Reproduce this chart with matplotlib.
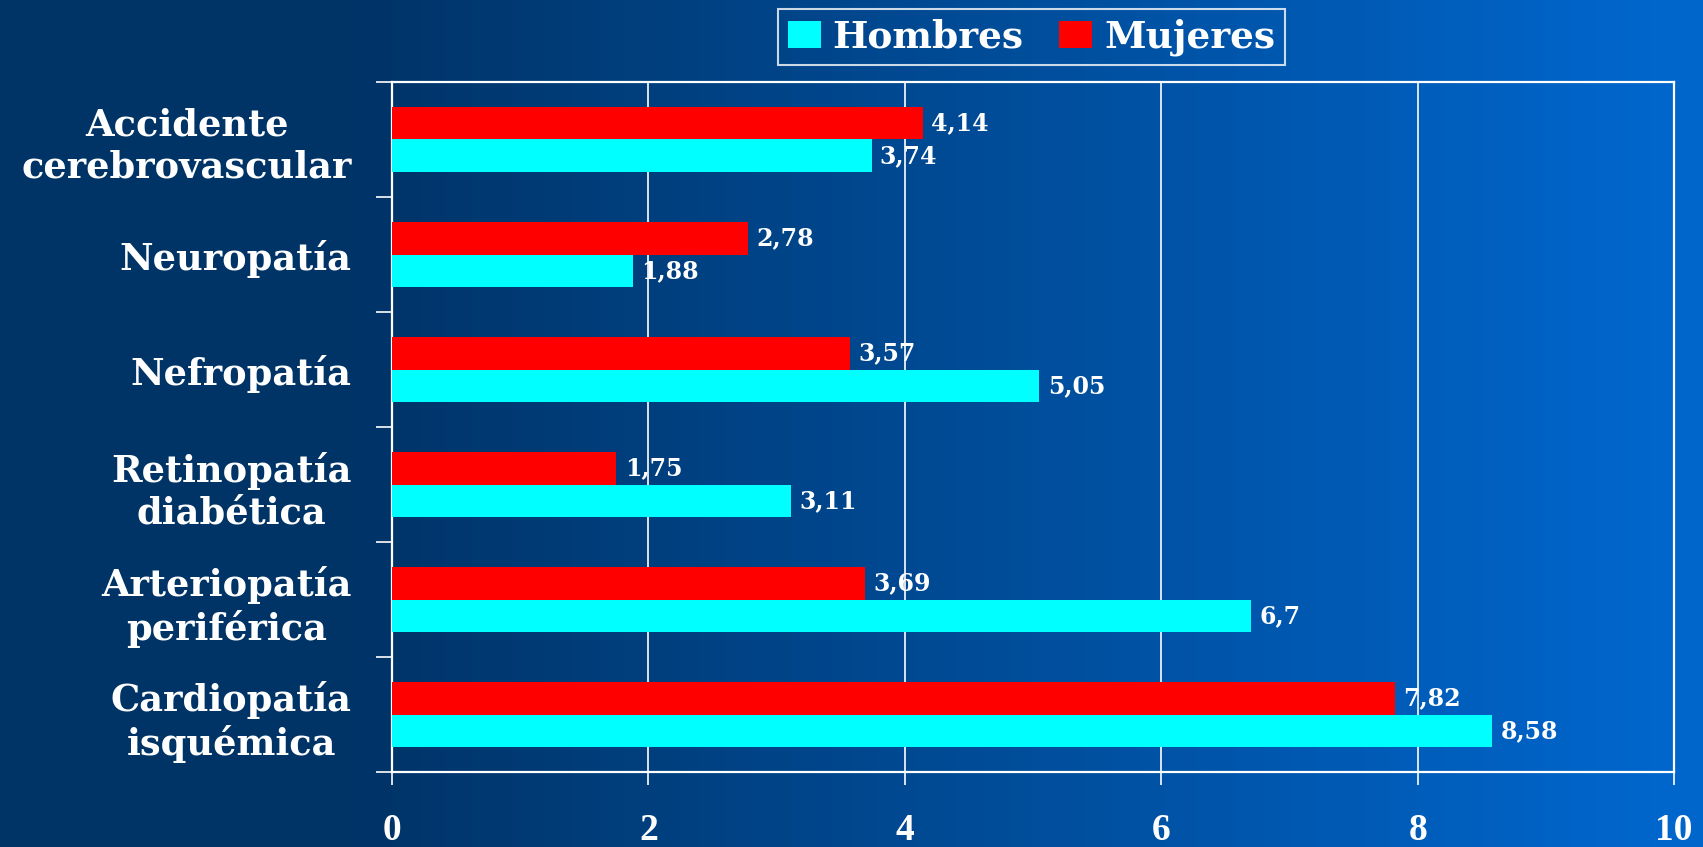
import numpy as np
import matplotlib
matplotlib.use('Agg')
import matplotlib.pyplot as plt
from matplotlib.colors import LinearSegmentedColormap

plt.rcParams['font.family'] = ['DejaVu Serif']
plt.rcParams['font.weight'] = 'bold'

categorias = ['Accidente\ncerebrovascular', 'Neuropatía', 'Nefropatía',
              'Retinopatía\ndiabética', 'Arteriopatía\nperiférica',
              'Cardiopatía\nisquémica']
hombres = [3.74, 1.88, 5.05, 3.11, 6.7, 8.58]
mujeres = [4.14, 2.78, 3.57, 1.75, 3.69, 7.82]
xticks = [0, 2, 4, 6, 8, 10]

fig = plt.figure(figsize=(17.03, 8.47), dpi=100)

# background gradient, dark navy on the left to bright blue on the right
bg = fig.add_axes([0, 0, 1, 1], zorder=-10)
cmap = LinearSegmentedColormap.from_list('bg', [(0.0, '#003366'), (0.2, '#003366'),
                                                (0.97, '#0066cc'), (1.0, '#0066cc')])
grad = np.linspace(0, 1, 512).reshape(1, -1)
bg.imshow(grad, aspect='auto', cmap=cmap, extent=[0, 1, 0, 1])
bg.set_axis_off()

ax = fig.add_axes([0.2302, 0.0885, 0.7528, 0.8147])
ax.set_facecolor('none')

y = np.arange(len(categorias))
h = 0.284
b_muj = ax.barh(y - h / 2, mujeres, h, color='#ff0000', label='Mujeres', zorder=3)
b_hom = ax.barh(y + h / 2, hombres, h, color='#00ffff', label='Hombres', zorder=3)

for bars, vals in ((b_muj, mujeres), (b_hom, hombres)):
    for r, v in zip(bars, vals):
        ax.annotate(str(v).replace('.', ','),
                    (r.get_width(), r.get_y() + r.get_height() / 2),
                    xytext=(6, 0), textcoords='offset points',
                    ha='left', va='center', color='white',
                    fontsize=17, fontweight='bold', zorder=4)

ax.set_xlim(0, 10)
ax.set_ylim(len(categorias) - 0.5, -0.5)
ax.set_xticks(xticks)
ax.set_xticklabels([str(t) for t in xticks], family=['Liberation Serif'],
                   fontsize=27, fontweight='bold')
ax.set_yticks(y)
ax.set_yticklabels(categorias, ha='right', multialignment='center')
ax.set_yticks(np.arange(len(categorias) + 1) - 0.5, minor=True)

ax.tick_params(axis='x', colors='white', length=9.5, width=1.2, pad=20)
ax.tick_params(axis='y', which='major', length=0, pad=29, labelcolor='white', labelsize=26.5)
ax.tick_params(axis='y', which='minor', length=11.5, width=1.2, color='white')

for s in ax.spines.values():
    s.set_color('white')
    s.set_linewidth(1.6)

ax.grid(axis='x', color='white', linewidth=1.2)
ax.set_axisbelow(True)

leg = fig.legend(handles=[b_hom, b_muj], labels=['Hombres', 'Mujeres'],
                 loc='center', bbox_to_anchor=(0.6057, 0.956), ncol=2,
                 fontsize=27, frameon=True, fancybox=False,
                 handlelength=0.88, handleheight=0.72, handletextpad=0.32,
                 columnspacing=0.95, borderpad=0.25, borderaxespad=0)
leg.get_frame().set_facecolor('none')
leg.get_frame().set_edgecolor('white')
leg.get_frame().set_linewidth(1.5)
for t in leg.get_texts():
    t.set_color('white')

fig.savefig('out.png', dpi=100)
